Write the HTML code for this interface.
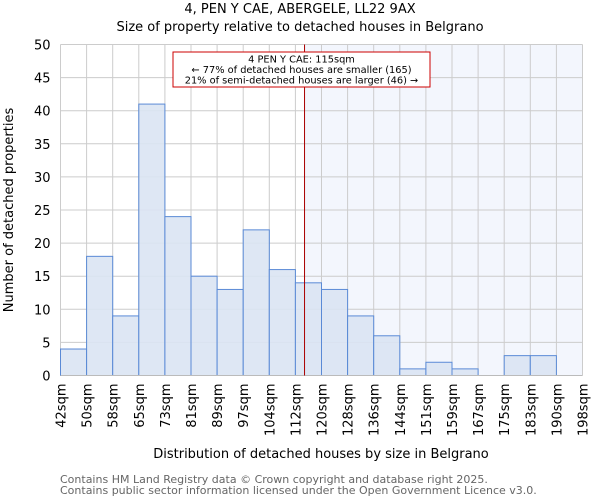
<!DOCTYPE html>
<html><head><meta charset="utf-8"><style>
body{margin:0;background:#fff;font-family:"DejaVu Sans","Liberation Sans",sans-serif}
</style></head><body>
<svg id="c" width="600" height="500" style="display:block">
<text x="300" y="13" text-anchor="middle" font-size="13">4, PEN Y CAE, ABERGELE, LL22 9AX</text>
<text x="300" y="31" text-anchor="middle" font-size="13">Size of property relative to detached houses in Belgrano</text>
<g id="grid"></g><g id="bars"></g><g id="axes"></g>
<text x="321" y="458" text-anchor="middle" font-size="13">Distribution of detached houses by size in Belgrano</text>
<text transform="translate(13,210) rotate(-90)" text-anchor="middle" font-size="13">Number of detached properties</text>
<text x="60" y="483" font-size="11" fill="#666">Contains HM Land Registry data © Crown copyright and database right 2025.</text>
<text x="60" y="494" font-size="11" fill="#666">Contains public sector information licensed under the Open Government Licence v3.0.</text>
</svg>
<script>
const categories=["42sqm","50sqm","58sqm","65sqm","73sqm","81sqm","89sqm","97sqm","104sqm","112sqm","120sqm","128sqm","136sqm","144sqm","151sqm","159sqm","167sqm","175sqm","183sqm","190sqm","198sqm"];
const counts=[4,18,9,41,24,15,13,22,16,14,13,9,6,1,2,1,0,3,3,0];
const yTicks=[0,5,10,15,20,25,30,35,40,45,50];
const markerBin=9.35;
const annotation=["4 PEN Y CAE: 115sqm","← 77% of detached houses are smaller (165)","21% of semi-detached houses are larger (46) →"];
const NS="http://www.w3.org/2000/svg";
const X0=60.5,X1=582.5,Y0=375.5,Y1=44.5,YMAX=50;
const bw=(X1-X0)/counts.length;
const xs=i=>X0+i*bw, ys=v=>Y0-(v/YMAX)*(Y0-Y1);
function mk(p,t,a){const e=document.createElementNS(NS,t);for(const k in a)e.setAttribute(k,a[k]);p.appendChild(e);return e;}
const grid=document.getElementById('grid'),bars=document.getElementById('bars'),axes=document.getElementById('axes');
const mx=xs(markerBin);
const sh=mk(grid,'rect',{x:mx,y:Y1,width:X1-mx,height:Y0-Y1,fill:'#f3f6fd'});


yTicks.forEach(v=>{
 const l=mk(grid,'line',{x1:X0,x2:X1,y1:ys(v),y2:ys(v),stroke:'#cccccc'});
 
 
 const t=mk(axes,'text',{x:X0-10,y:ys(v)+5,'text-anchor':'end','font-size':13});
 t.textContent=v;
 
 
});
categories.forEach((c,i)=>{
 const x=xs(i);
 const l=mk(grid,'line',{x1:x,x2:x,y1:Y1,y2:Y0,stroke:'#cccccc'});
 
 
 const t=mk(axes,'text',{transform:`translate(${x+5},${Y0+8}) rotate(-90)`,'text-anchor':'end','font-size':13});
 t.textContent=c;
 
 
});
counts.forEach((v,i)=>{
 if(v<=0)return;
 const r=mk(bars,'rect',{x:xs(i),y:ys(v),width:bw,height:Y0-ys(v),fill:'#dae4f3',stroke:'#5a8ad6','stroke-width':1,'fill-opacity':0.9});
 
 
});
const ax=mk(axes,'line',{x1:X0,x2:X1,y1:Y0,y2:Y0,stroke:'#bbbbbb'});


const ln=mk(axes,'line',{x1:mx,x2:mx,y1:Y1,y2:Y0,stroke:'#aa0000','stroke-width':1});


const box=mk(axes,'rect',{x:173,y:52,width:257,height:35,fill:'#fff',stroke:'#cc0000'});


annotation.forEach((s,i)=>{
 const t=mk(axes,'text',{x:301.5,y:62.5+i*10.5,'text-anchor':'middle','font-size':9.8});
 t.textContent=s;
 
 
});
</script>
</body></html>
